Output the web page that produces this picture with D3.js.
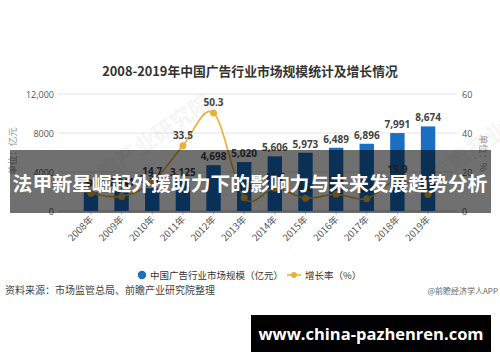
<!DOCTYPE html>
<html>
<head>
<meta charset="utf-8">
<script src="https://cdn.jsdelivr.net/npm/d3@7/dist/d3.min.js"></script>
<style>
  html, body { margin: 0; padding: 0; background: #fff; }
  svg { display: block; }
  text { font-family: "Open Sans", "Noto Sans CJK SC", sans-serif; }
  .cjk { font-family: "Noto Sans CJK SC", "Open Sans", sans-serif; }
</style>
</head>
<body>
<div id="chart"></div>
<script>
// data
const years = ["2008年", "2009年", "2010年", "2011年", "2012年", "2013年",
    "2014年", "2015年", "2016年", "2017年", "2018年", "2019年"];
const marketSize = [1900, 2041, 2341, 3125, 4698, 5020, 5606, 5973, 6489, 6896, 7991, 8674];
const growthRate = [9.1, 7.5, 14.7, 33.5, 50.3, 6.8, 11.7, 6.6, 8.6, 6.3, 15.9, 8.5];
const leftTicks = [0, 4000, 8000, 12000];
const leftTickLabels = ["0", "4000", "8000", "12,000"];
const rightTicks = [0, 20, 40, 60];

const width = 500;
const height = 362;

const svg = d3.select("#chart")
    .append("svg")
    .attr("width", width)
    .attr("height", height);

svg.append("rect").attr("width", width).attr("height", height).attr("fill", "#fff");

const x = d3.scaleBand()
    .domain(years)
    .range([67.5, 451.5])
    .padding(0.53);

const yLeft = d3.scaleLinear().domain([0, 12000]).range([211, 94]);
const yRight = d3.scaleLinear().domain([0, 60]).range([211, 94]);

const barColor = "#1b6fc2";
const lineColor = "#e8b13a";

// title
svg.append("text")
    .attr("class", "cjk")
    .attr("x", 250)
    .attr("y", 76)
    .attr("text-anchor", "middle")
    .style("font-size", "12.8px")
    .style("font-weight", "bold")
    .attr("fill", "#333")
    .text("2008-2019年中国广告行业市场规模统计及增长情况");

// grid lines
svg.selectAll(".grid")
    .data(leftTicks)
    .enter()
    .append("line")
    .attr("x1", 58)
    .attr("x2", 457)
    .attr("y1", d => yLeft(d))
    .attr("y2", d => yLeft(d))
    .attr("stroke", d => d === 0 ? "#c8c8c8" : "#e3e3e3")
    .attr("stroke-width", 1);

// left axis labels
svg.selectAll(".lt")
    .data(leftTicks)
    .enter()
    .append("text")
    .attr("x", 54)
    .attr("y", d => yLeft(d) + 3.5)
    .attr("text-anchor", "end")
    .style("font-size", "9px")
    .attr("fill", "#555")
    .text((d, i) => leftTickLabels[i]);

// right axis labels
svg.selectAll(".rt")
    .data(rightTicks)
    .enter()
    .append("text")
    .attr("x", 462)
    .attr("y", d => yRight(d) + 3.5)
    .style("font-size", "9px")
    .attr("fill", "#555")
    .text(d => d);

// axis unit labels
svg.append("text")
    .attr("class", "cjk")
    .attr("transform", "translate(16,151) rotate(-90)")
    .attr("text-anchor", "middle")
    .style("font-size", "9.5px")
    .attr("fill", "#999")
    .text("单位：亿元");

svg.append("text")
    .attr("class", "cjk")
    .attr("transform", "translate(480,153) rotate(90)")
    .attr("text-anchor", "middle")
    .style("font-size", "9.5px")
    .attr("fill", "#999")
    .text("单位：%");

// x ticks
svg.selectAll(".xt")
    .data(years)
    .enter()
    .append("line")
    .attr("x1", d => x(d) + x.bandwidth() / 2)
    .attr("x2", d => x(d) + x.bandwidth() / 2)
    .attr("y1", 211)
    .attr("y2", 215)
    .attr("stroke", "#c8c8c8");

// x labels
svg.selectAll(".xl")
    .data(years)
    .enter()
    .append("text")
    .attr("class", "cjk")
    .attr("transform", d => "translate(" + (x(d) + x.bandwidth() / 2 + 3) + ",220) rotate(-45)")
    .attr("text-anchor", "end")
    .style("font-size", "9.5px")
    .attr("fill", "#555")
    .text(d => d);

// bars
svg.selectAll(".bar")
    .data(marketSize)
    .enter()
    .append("rect")
    .attr("x", (d, i) => x(years[i]))
    .attr("y", d => yLeft(d))
    .attr("width", x.bandwidth())
    .attr("height", d => yLeft(0) - yLeft(d))
    .attr("fill", barColor);

// bar labels
svg.selectAll(".bl")
    .data(marketSize)
    .enter()
    .append("text")
    .attr("x", (d, i) => x(years[i]) + x.bandwidth() / 2)
    .attr("y", d => yLeft(d) - 5)
    .attr("text-anchor", "middle")
    .style("font-size", "10px")
    .style("font-weight", "bold")
    .attr("fill", "#444")
    .text(d => d3.format(",")(d));

// growth line
const line = d3.line()
    .x((d, i) => x(years[i]) + x.bandwidth() / 2)
    .y(d => yRight(d))
    .curve(d3.curveCardinal);

svg.append("path")
    .datum(growthRate)
    .attr("d", line)
    .attr("fill", "none")
    .attr("stroke", lineColor)
    .attr("stroke-width", 1.6);

svg.selectAll(".pt")
    .data(growthRate)
    .enter()
    .append("circle")
    .attr("cx", (d, i) => x(years[i]) + x.bandwidth() / 2)
    .attr("cy", d => yRight(d))
    .attr("r", 3.5)
    .attr("fill", lineColor);

svg.selectAll(".gl")
    .data(growthRate)
    .enter()
    .append("text")
    .attr("x", (d, i) => x(years[i]) + x.bandwidth() / 2)
    .attr("y", d => yRight(d) - 7)
    .attr("text-anchor", "middle")
    .style("font-size", "10px")
    .style("font-weight", "bold")
    .attr("fill", "#444")
    .text(d => d);

// faint watermark
svg.append("text")
    .attr("class", "cjk")
    .attr("transform", "translate(150,150) rotate(-35)")
    .attr("text-anchor", "middle")
    .style("font-size", "22px")
    .style("font-weight", "bold")
    .attr("fill", "#000")
    .attr("opacity", 0.035)
    .text("前瞻产业研究院");

svg.append("text")
    .attr("class", "cjk")
    .attr("transform", "translate(500,140) rotate(-35)")
    .attr("text-anchor", "middle")
    .style("font-size", "22px")
    .style("font-weight", "bold")
    .attr("fill", "#000")
    .attr("opacity", 0.035)
    .text("前瞻产业研究院");

// legend
const legend = svg.append("g");
legend.append("circle")
    .attr("cx", 142)
    .attr("cy", 275)
    .attr("r", 4.2)
    .attr("fill", barColor);
legend.append("text")
    .attr("class", "cjk")
    .attr("x", 150)
    .attr("y", 278.5)
    .style("font-size", "9.5px")
    .attr("fill", "#333")
    .text("中国广告行业市场规模（亿元）");
legend.append("line")
    .attr("x1", 287)
    .attr("x2", 301)
    .attr("y1", 275)
    .attr("y2", 275)
    .attr("stroke", lineColor)
    .attr("stroke-width", 1.6);
legend.append("circle")
    .attr("cx", 294)
    .attr("cy", 275)
    .attr("r", 3)
    .attr("fill", lineColor);
legend.append("text")
    .attr("class", "cjk")
    .attr("x", 305)
    .attr("y", 278.5)
    .style("font-size", "9.5px")
    .attr("fill", "#333")
    .text("增长率（%）");

// footer
svg.append("text")
    .attr("class", "cjk")
    .attr("x", 5)
    .attr("y", 294)
    .style("font-size", "10px")
    .attr("fill", "#444")
    .text("资料来源：市场监管总局、前瞻产业研究院整理");

svg.append("text")
    .attr("class", "cjk")
    .attr("x", 498)
    .attr("y", 294)
    .attr("text-anchor", "end")
    .style("font-size", "8px")
    .attr("fill", "#666")
    .text("@前瞻经济学人APP");

// overlay banner
svg.append("rect")
    .attr("x", 10)
    .attr("y", 150)
    .attr("width", 481)
    .attr("height", 63)
    .attr("fill", "#000")
    .attr("opacity", 0.56);

svg.append("text")
    .attr("class", "cjk")
    .attr("x", 250)
    .attr("y", 191)
    .attr("text-anchor", "middle")
    .style("font-size", "19.8px")
    .style("font-weight", "bold")
    .attr("fill", "#fff")
    .text("法甲新星崛起外援助力下的影响力与未来发展趋势分析");

// site box
svg.append("rect")
    .attr("x", 251)
    .attr("y", 315)
    .attr("width", 240)
    .attr("height", 37)
    .attr("fill", "#000");

svg.append("text")
    .attr("x", 371)
    .attr("y", 339.5)
    .attr("text-anchor", "middle")
    .style("font-size", "16.5px")
    .style("font-weight", "bold")
    .attr("fill", "#fff")
    .text("www.china-pazhenren.com");
</script>
</body>
</html>
